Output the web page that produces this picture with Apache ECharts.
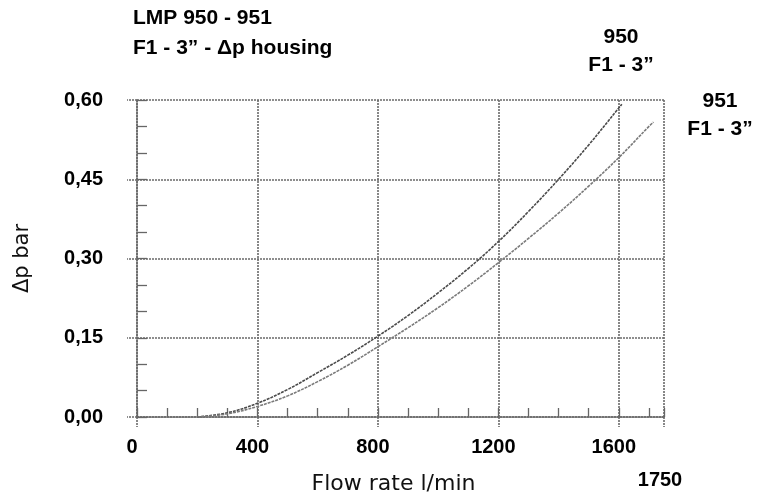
<!DOCTYPE html>
<html>
<head>
<meta charset="utf-8">
<script src="https://cdn.jsdelivr.net/npm/echarts@6/dist/echarts.min.js"></script>
<style>html,body{margin:0;padding:0;background:#fff}#c{width:765px;height:498px}</style>
</head>
<body>
<div id="c"></div>
<script>
// Flow rate (l/min) and pressure drop (bar)
const flow950 = [200, 300, 400, 500, 600, 700, 800, 900, 1000, 1100, 1200, 1300, 1400, 1500, 1600, 1610];
const dp950   = [0.000, 0.008, 0.026, 0.052, 0.084, 0.117, 0.153, 0.192, 0.235, 0.281, 0.332, 0.389, 0.450, 0.515, 0.585, 0.592];
const flow951 = [200, 300, 400, 500, 600, 700, 800, 900, 1000, 1100, 1200, 1300, 1400, 1500, 1600, 1700, 1715];
const dp951   = [0.000, 0.006, 0.020, 0.040, 0.067, 0.098, 0.133, 0.169, 0.207, 0.248, 0.292, 0.338, 0.386, 0.437, 0.491, 0.550, 0.558];
const titleLines = ['LMP 950 - 951', 'F1 - 3\u201d - \u0394p housing'];
const label950 = ['950', 'F1 - 3\u201d'];
const label951 = ['951', 'F1 - 3\u201d'];
const xName = 'Flow rate l/min';
const yName = '\u0394p bar';
const xMaxLabel = '1750';

const FONT = 'Liberation Sans';
const gridLine = { color: '#6a6a6a', width: 1.6, type: [2, 1] };

const chart = echarts.init(document.getElementById('c'), null, { renderer: 'canvas' });
const zip = (a, b) => a.map((v, i) => [v, b[i]]);

chart.setOption({
  animation: false,
  backgroundColor: '#fff',
  title: {
    text: titleLines.join('\n'),
    left: 133, top: 0, padding: [3, 0, 0, 0],
    textStyle: { fontFamily: FONT, fontWeight: 'bold', fontSize: 21, lineHeight: 30, color: '#000' }
  },
  grid: { left: 137, right: 101, top: 100, bottom: 81, containLabel: false, outerBoundsMode: 'none' },
  xAxis: [
    {
      type: 'value', min: 0, max: 1750, interval: 400, position: 'bottom',
      name: xName, nameLocation: 'middle', nameGap: 56,
      nameTextStyle: { fontFamily: 'DejaVu Sans', fontSize: 22, color: '#111', padding: [0, 14, 0, 0] },
      axisLine: { show: true, lineStyle: gridLine },
      axisTick: { show: true, inside: false, length: 10, lineStyle: gridLine },
      splitLine: { show: true, lineStyle: gridLine },
      axisLabel: {
        margin: 20, color: '#000', fontFamily: FONT, fontWeight: 'bold', fontSize: 20,
        padding: [0, 10, 0, 0],
        formatter: v => (v === 1750 ? '' : String(v))
      }
    },
    {
      type: 'value', min: 0, max: 1750, interval: 100, position: 'bottom',
      axisLine: { show: false },
      axisTick: { show: true, inside: true, length: 9, lineStyle: { color: '#666', width: 1.3 } },
      splitLine: { show: false },
      axisLabel: { show: false }
    }
  ],
  yAxis: [
    {
      type: 'value', min: 0, max: 0.6, interval: 0.15, position: 'left',
      name: yName, nameLocation: 'middle', nameGap: 104, nameRotate: 90,
      nameTextStyle: { fontFamily: 'DejaVu Sans', fontSize: 21, color: '#111', padding: [12, 0, 0, 0] },
      axisLine: { show: true, lineStyle: gridLine },
      axisTick: { show: true, inside: false, length: 10, lineStyle: gridLine },
      splitLine: { show: true, lineStyle: gridLine },
      axisLabel: {
        margin: 34, color: '#000', fontFamily: FONT, fontWeight: 'bold', fontSize: 20,
        formatter: v => v.toFixed(2).replace('.', ',')
      }
    },
    {
      type: 'value', min: 0, max: 0.6, interval: 0.05, position: 'left',
      axisLine: { show: false },
      axisTick: { show: true, inside: true, length: 10, lineStyle: { color: '#666', width: 1.3 } },
      splitLine: { show: false },
      axisLabel: { show: false }
    }
  ],
  series: [
    {
      name: '950', type: 'line', xAxisIndex: 0, yAxisIndex: 0, smooth: 0.4, showSymbol: false,
      data: zip(flow950, dp950),
      lineStyle: { color: '#4a4a4a', width: 1.6, type: [3, 1] }
    },
    {
      name: '951', type: 'line', xAxisIndex: 0, yAxisIndex: 0, smooth: 0.4, showSymbol: false,
      data: zip(flow951, dp951),
      lineStyle: { color: '#7a7a7a', width: 1.6, type: [3, 1] }
    }
  ],
  graphic: [
    { type: 'text', x: 621, y: 23, style: { text: label950.join('\n'), align: 'center', verticalAlign: 'top', font: 'bold 21px "Liberation Sans"', lineHeight: 28, fill: '#000' } },
    { type: 'text', x: 720, y: 87, style: { text: label951.join('\n'), align: 'center', verticalAlign: 'top', font: 'bold 21px "Liberation Sans"', lineHeight: 28, fill: '#000' } },
    { type: 'text', x: 660, y: 470, style: { text: xMaxLabel, align: 'center', verticalAlign: 'top', font: 'bold 20px "Liberation Sans"', fill: '#000' } }
  ]
});
</script>
</body>
</html>
